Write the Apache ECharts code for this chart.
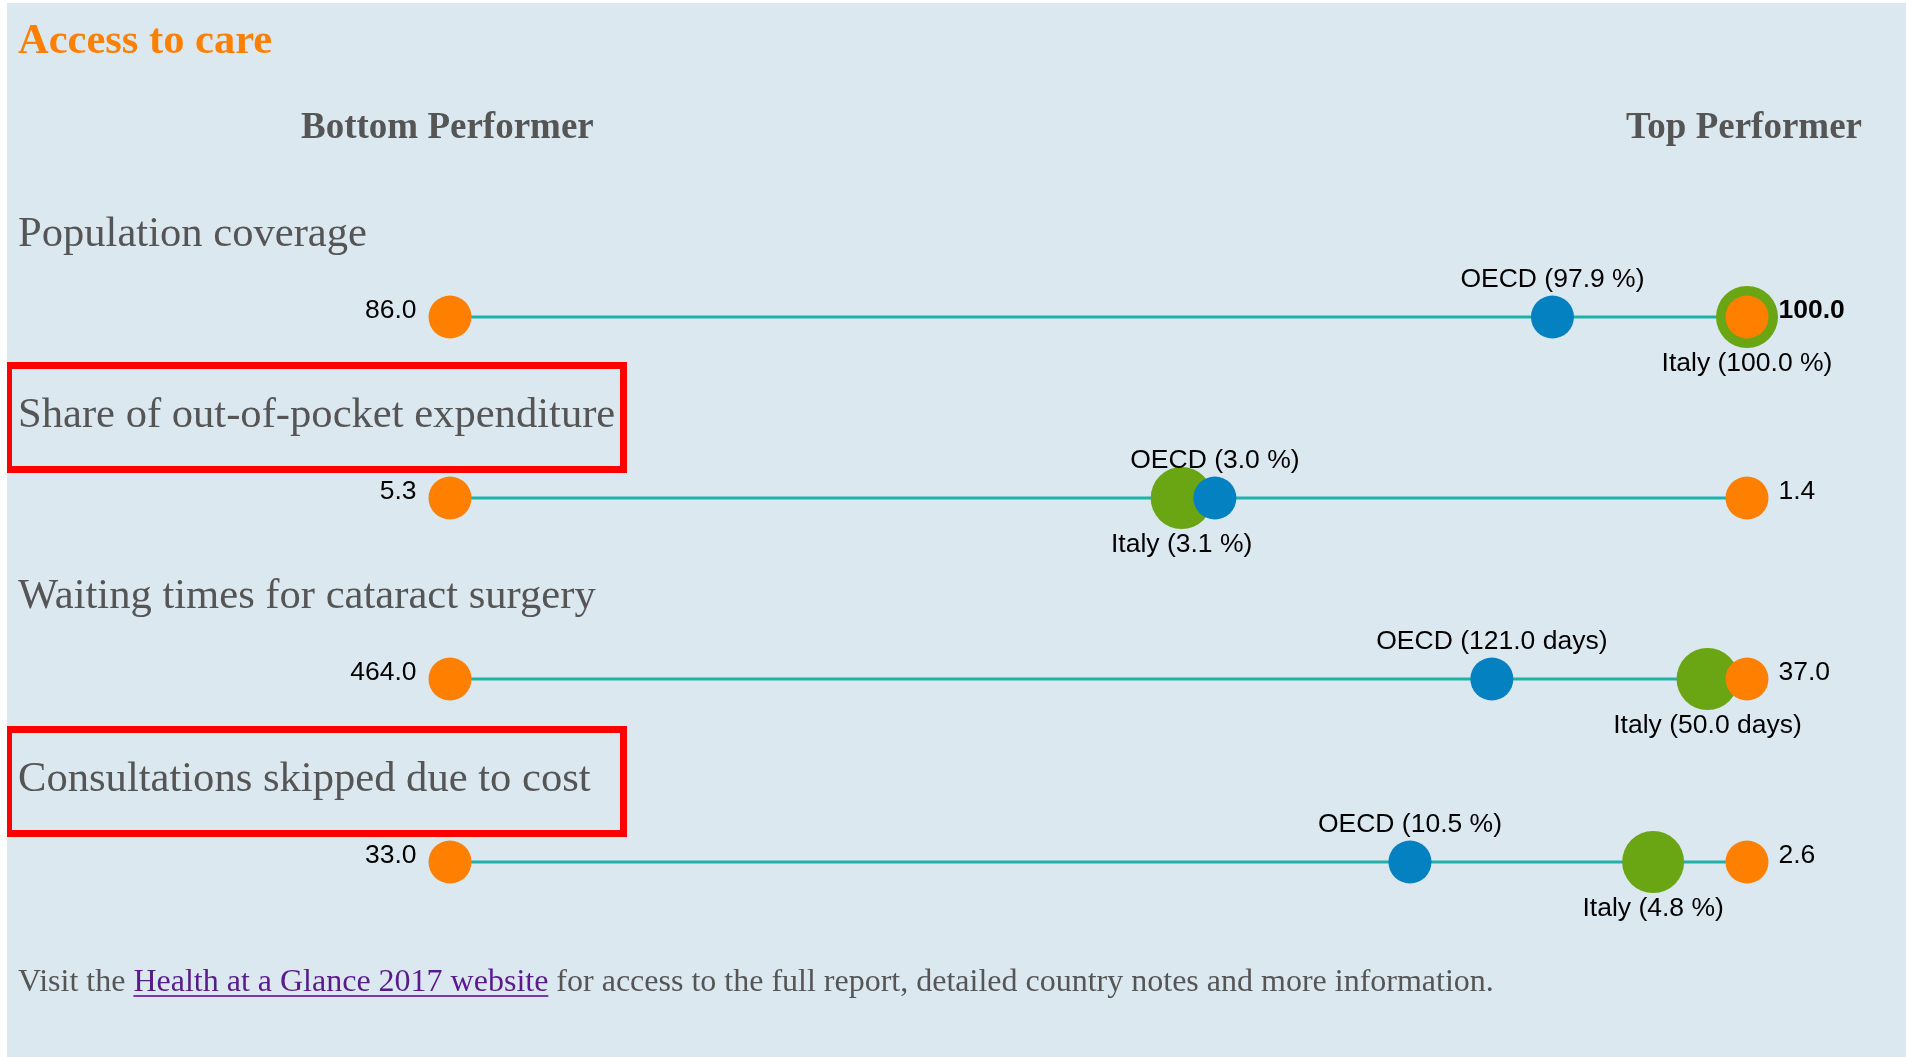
<!DOCTYPE html>
<html><head><meta charset="utf-8">
<script src="https://cdn.jsdelivr.net/npm/echarts@6/dist/echarts.min.js"></script>
<style>html,body{margin:0;padding:0;background:#fff;overflow:hidden}#c{width:1906px;height:1057px;}</style>
</head><body><div id="c"></div>
<script>
// ---- data ----
const chartTitle = 'Access to care';
const headerLabels = ['Bottom Performer', 'Top Performer'];
const indicatorNames = ['Population coverage', 'Share of out-of-pocket expenditure', 'Waiting times for cataract surgery', 'Consultations skipped due to cost'];
const bottomPerformer = [86.0, 5.3, 464.0, 33.0];
const topPerformer = [100.0, 1.4, 37.0, 2.6];
const oecdAverage = [97.9, 3.0, 121.0, 10.5];
const italyValues = [100.0, 3.1, 50.0, 4.8];
const units = ['%', '%', 'days', '%'];
const highlightedRows = [false, true, false, true];
const footerParts = ['Visit the ', 'Health at a Glance 2017 website', ' for access to the full report, detailed country notes and more information.'];

// ---- layout / style ----
const BG = '#dbe8f0', ORANGE = '#ff7f00', BLUE = '#0381c0', GREEN = '#6aa514', TEAL = '#20b2aa';
const SERIF = '"Liberation Serif", "Times New Roman", serif';
const SANS = '"Liberation Sans", Arial, sans-serif';
const rowLineY = [317, 498, 679, 862];
const axisLeft = 450, axisRight = 1747;
const labelFont = {fontFamily: SANS, fontSize: 26.5, color: '#000'};

const grids = [], xAxes = [], yAxes = [], series = [];
indicatorNames.forEach((name, i) => {
  const b = bottomPerformer[i], t = topPerformer[i];
  const topBold = italyValues[i] === t ? 'bold' : 'normal';
  grids.push({left: axisLeft, width: axisRight - axisLeft, top: rowLineY[i] - 50, height: 100, containLabel: false});
  xAxes.push({type: 'value', gridIndex: i, min: Math.min(b, t), max: Math.max(b, t), inverse: b > t, show: false});
  yAxes.push({type: 'value', gridIndex: i, min: -1, max: 1, show: false});
  series.push({type: 'line', xAxisIndex: i, yAxisIndex: i, data: [[b, 0], [t, 0]], symbol: 'none', silent: true, z: 1,
    lineStyle: {color: TEAL, width: 3}});
  series.push({type: 'scatter', xAxisIndex: i, yAxisIndex: i, z: 2, symbolSize: 62, itemStyle: {color: GREEN, opacity: 1},
    data: [[italyValues[i], 0]],
    label: Object.assign({show: true, position: 'inside', offset: [0, 47],
      formatter: () => 'Italy (' + italyValues[i].toFixed(1) + ' ' + units[i] + ')'}, labelFont)});
  series.push({type: 'scatter', xAxisIndex: i, yAxisIndex: i, z: 3, symbolSize: 43, itemStyle: {color: BLUE, opacity: 1},
    data: [[oecdAverage[i], 0]],
    label: Object.assign({show: true, position: 'inside', offset: [0, -37.5],
      formatter: () => 'OECD (' + oecdAverage[i].toFixed(1) + ' ' + units[i] + ')'}, labelFont)});
  series.push({type: 'scatter', xAxisIndex: i, yAxisIndex: i, z: 4, symbolSize: 43, itemStyle: {color: ORANGE, opacity: 1},
    data: [
      {value: [b, 0], label: Object.assign({show: true, position: 'left', distance: 12, offset: [0, -6], formatter: b.toFixed(1)}, labelFont)},
      {value: [t, 0], label: Object.assign({show: true, position: 'right', distance: 10, offset: [0, -6], formatter: t.toFixed(1)}, labelFont, {fontWeight: topBold})}
    ]});
});

// footer measurement
const footerSize = 32;
const mctx = document.createElement('canvas').getContext('2d');
mctx.font = footerSize + 'px ' + SERIF;
const w0 = mctx.measureText(footerParts[0]).width;
const w1 = mctx.measureText(footerParts[1]).width;
const footerX = 18, footerY = 983;

function txt(x, y, text, font, fill, align) {
  return {type: 'text', x: x, y: y, style: {text: text, font: font, fill: fill, textAlign: align || 'left', textVerticalAlign: 'middle', align: align || 'left', verticalAlign: 'middle'}};
}

const graphics = [
  {type: 'rect', shape: {x: 0, y: 0, width: 7, height: 1057}, style: {fill: '#fff'}, z: 100},
  {type: 'rect', shape: {x: 0, y: 0, width: 1906, height: 3}, style: {fill: '#fff'}, z: 100},
  txt(18, 42.5, chartTitle, 'bold 42.5px ' + SERIF, ORANGE),
  txt(301, 128.5, headerLabels[0], 'bold 37px ' + SERIF, '#555'),
  txt(1862, 128.5, headerLabels[1], 'bold 37px ' + SERIF, '#555', 'right'),
  txt(footerX, footerY, footerParts[0], footerSize + 'px ' + SERIF, '#555'),
  txt(footerX + w0, footerY, footerParts[1], footerSize + 'px ' + SERIF, '#5a1a8b'),
  {type: 'line', shape: {x1: footerX + w0, y1: footerY + 13, x2: footerX + w0 + w1, y2: footerY + 13}, style: {stroke: '#7a3aa8', lineWidth: 2}},
  txt(footerX + w0 + w1, footerY, footerParts[2], footerSize + 'px ' + SERIF, '#555')
];
indicatorNames.forEach((name, i) => {
  graphics.push(txt(18, rowLineY[i] - 82, name, '42.6px ' + SERIF, '#555'));
  if (highlightedRows[i]) {
    graphics.push({type: 'rect', shape: {x: 8.5, y: rowLineY[i] - 132.5, width: 615, height: 104}, style: {fill: 'none', stroke: '#ff0000', lineWidth: 7}, z: 50});
  }
});

const chart = echarts.init(document.getElementById('c'), null, {renderer: 'canvas'});
chart.setOption({
  animation: false,
  backgroundColor: BG,
  grid: grids, xAxis: xAxes, yAxis: yAxes, series: series,
  graphic: graphics
});
</script></body></html>
